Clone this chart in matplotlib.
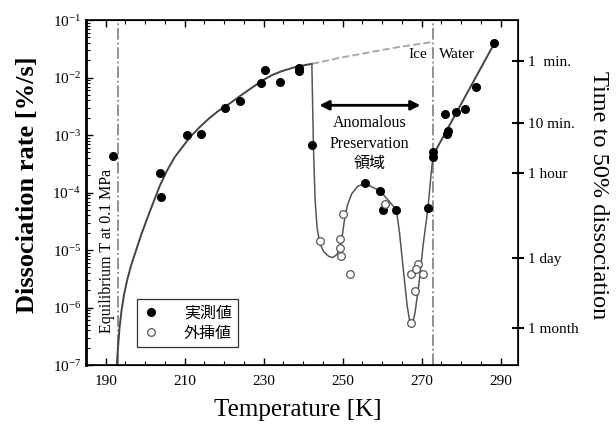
import numpy as np
import matplotlib
matplotlib.use("Agg")
import matplotlib.pyplot as plt

plt.rcParams['font.family'] = ['Liberation Serif', 'Noto Sans CJK JP']
plt.rcParams['mathtext.fontset'] = 'custom'
plt.rcParams['mathtext.rm'] = 'Liberation Serif'
plt.rcParams['mathtext.it'] = 'Liberation Serif'

# measured points (filled)
meas_T = [191.8, 203.7, 203.9, 210.7, 214.2, 220.1, 223.9, 229.4, 230.3, 234.1,
          238.9, 238.9, 242.2, 255.6, 259.5, 260.2, 263.6, 271.6, 272.9, 273.0,
          276.3, 276.7, 275.8, 278.8, 280.9, 283.8, 288.3]
meas_rate = [4.4e-4, 2.2e-4, 8.5e-5, 1.0e-3, 1.05e-3, 3.0e-3, 3.9e-3, 8.1e-3, 1.35e-2, 8.4e-3,
             1.3e-2, 1.45e-2, 6.7e-4, 1.45e-4, 1.07e-4, 4.9e-5, 5.0e-5, 5.4e-5, 4.1e-4, 5.0e-4,
             1.04e-3, 1.2e-3, 2.35e-3, 2.5e-3, 2.8e-3, 6.9e-3, 4.0e-2]

# extrapolated points (open)
extr_T = [244.2, 249.2, 250.1, 249.2, 249.7, 251.8, 260.6, 269.1, 267.4, 270.3,
          268.2, 267.4, 268.6]
extr_rate = [1.45e-5, 1.55e-5, 4.3e-5, 1.1e-5, 7.9e-6, 3.8e-6, 6.3e-5, 5.8e-6, 3.8e-6, 3.8e-6,
             1.95e-6, 5.5e-7, 4.6e-6]

# fitted curve (ice region)
fit_T = [192.8, 193.1, 193.5, 194.0, 194.7, 195.5, 196.5, 197.7, 199.0, 200.5,
         202.0, 203.7, 205.5, 207.5, 209.5, 211.3, 213.5, 216.0, 218.5, 221.4,
         224.0, 226.5, 229.7, 232.0, 234.5, 238.3, 242.2]
fit_log = [-7.0, -6.7, -6.35, -6.05, -5.75, -5.5, -5.25, -5.0, -4.73, -4.45,
           -4.18, -3.88, -3.62, -3.38, -3.2, -3.04, -2.88, -2.72, -2.58, -2.45,
           -2.32, -2.2, -2.05, -1.96, -1.89, -1.81, -1.76]

# dashed extension
ext_T = [242.2, 249.0, 256.0, 264.0, 272.8]
ext_log = [-1.76, -1.66, -1.57, -1.47, -1.38]

# anomalous preservation curve
anom_T = [242.2, 242.4, 242.6, 243.0, 243.5, 244.2, 245.2, 246.5, 247.5, 248.5,
          249.3, 249.9, 250.4, 251.2, 252.3, 253.8, 255.6, 259.5, 263.6, 264.4,
          265.3, 266.3, 267.0, 267.6, 268.3, 269.3, 270.4, 271.6, 272.5, 272.9]
anom_log = [-1.76, -2.5, -3.2, -4.1, -4.6, -4.88, -5.03, -5.11, -5.13, -5.08,
            -4.95, -4.75, -4.5, -4.22, -4.02, -3.89, -3.84, -3.97, -4.3, -4.7,
            -5.3, -5.95, -6.25, -6.3, -6.1, -5.6, -4.9, -4.27, -3.6, -3.36]

# water line
water_T = [272.5, 288.6]
water_log = [-3.4, -1.38]

# axis ticks
x_ticks = [190, 210, 230, 250, 270, 290]
y_decades = [-7, -6, -5, -4, -3, -2, -1]

# right axis: time to 50% dissociation
time_labels = ['1  min.', '10 min.', '1 hour', '1 day', '1 month']
time_log = [-1.715, -2.797, -3.651, -5.134, -6.355]

T_eq = 193.0
T_melt = 272.8

fig = plt.figure(figsize=(6.16, 4.28), dpi=100)
ax = fig.add_axes([0.1396, 0.147, 0.7013, 0.806])

ax.set_yscale('log')
ax.set_xlim(185, 294.4)
ax.set_ylim(1e-7, 1e-1)

ax.axvline(T_eq, color='#888888', lw=1.3, ls='-.')
ax.axvline(T_melt, color='#888888', lw=1.3, ls='-.')

ax.plot(fit_T, 10 ** np.array(fit_log), color='#444444', lw=1.4)
ax.plot(ext_T, 10 ** np.array(ext_log), color='#aaaaaa', lw=1.4, ls='--')
ax.plot(anom_T, 10 ** np.array(anom_log), color='#555555', lw=1.1)
ax.plot(water_T, 10 ** np.array(water_log), color='#444444', lw=1.4)

ax.plot(meas_T, meas_rate, ls='none', marker='o', ms=5.5, color='black', label='実測値')
ax.plot(extr_T, extr_rate, ls='none', marker='o', ms=5.5, mfc='white', mec='#555555',
        mew=0.9, label='外挿値')

ax.annotate('', xy=(243.4, 3.3e-3), xytext=(270.4, 3.3e-3),
            arrowprops=dict(arrowstyle='<|-|>', color='black', lw=2, mutation_scale=14))
ax.text(256.8, 2.2e-3, 'Anomalous\nPreservation\n領域', ha='center', va='top',
        fontsize=11.5, linespacing=1.35)
ax.text(190.2, 3.6e-7, 'Equilibrium T at 0.1 MPa', rotation=90, ha='center', va='bottom',
        fontsize=11.5)
ax.text(271.3, 2.5e-2, 'Ice', ha='right', va='center', fontsize=11)
ax.text(274.5, 2.5e-2, 'Water', ha='left', va='center', fontsize=11)

ax.set_xticks(x_ticks)
ax.set_xticks(np.arange(190, 295, 5), minor=True)
ax.set_yticks(10.0 ** np.array(y_decades))
ax.set_yticklabels([r'$10^{%d}$' % d for d in y_decades])
ax.yaxis.set_minor_formatter(matplotlib.ticker.NullFormatter())
ax.tick_params(which='both', direction='in', top=True, right=False, labelsize=11)
ax.tick_params(which='major', length=5, width=1)
ax.tick_params(which='minor', length=3, width=0.8)
ax.tick_params(axis='x', pad=7)
for s in ax.spines.values():
    s.set_linewidth(1.2)
ax.spines['left'].set_linewidth(2)

leg = ax.legend(loc='lower left', bbox_to_anchor=(0.118, 0.052), borderaxespad=0,
                fancybox=False, edgecolor='#333333', framealpha=1,
                prop={'family': 'Noto Sans CJK JP', 'size': 11.5}, handletextpad=1.6,
                borderpad=0.35, labelspacing=0.2, handlelength=1.0)
leg.get_frame().set_linewidth(0.9)

ax2 = ax.twinx()
ax2.set_yscale('log')
ax2.set_ylim(ax.get_ylim())
ax2.set_yticks(10 ** np.array(time_log))
ax2.set_yticklabels(time_labels)
ax2.yaxis.set_minor_locator(matplotlib.ticker.NullLocator())
ax2.tick_params(direction='inout', length=8, width=1.5, labelsize=11)

fig.text(0.045, 0.568, 'Dissociation rate [%/s]', rotation=90, ha='center', va='center',
         fontsize=19, fontweight='bold')
fig.text(0.971, 0.544, 'Time to 50% dissociation', rotation=-90, ha='center', va='center',
         fontsize=17.5)
fig.text(0.484, 0.042, 'Temperature [K]', ha='center', va='center', fontsize=18)

fig.savefig('out.png', dpi=100)
